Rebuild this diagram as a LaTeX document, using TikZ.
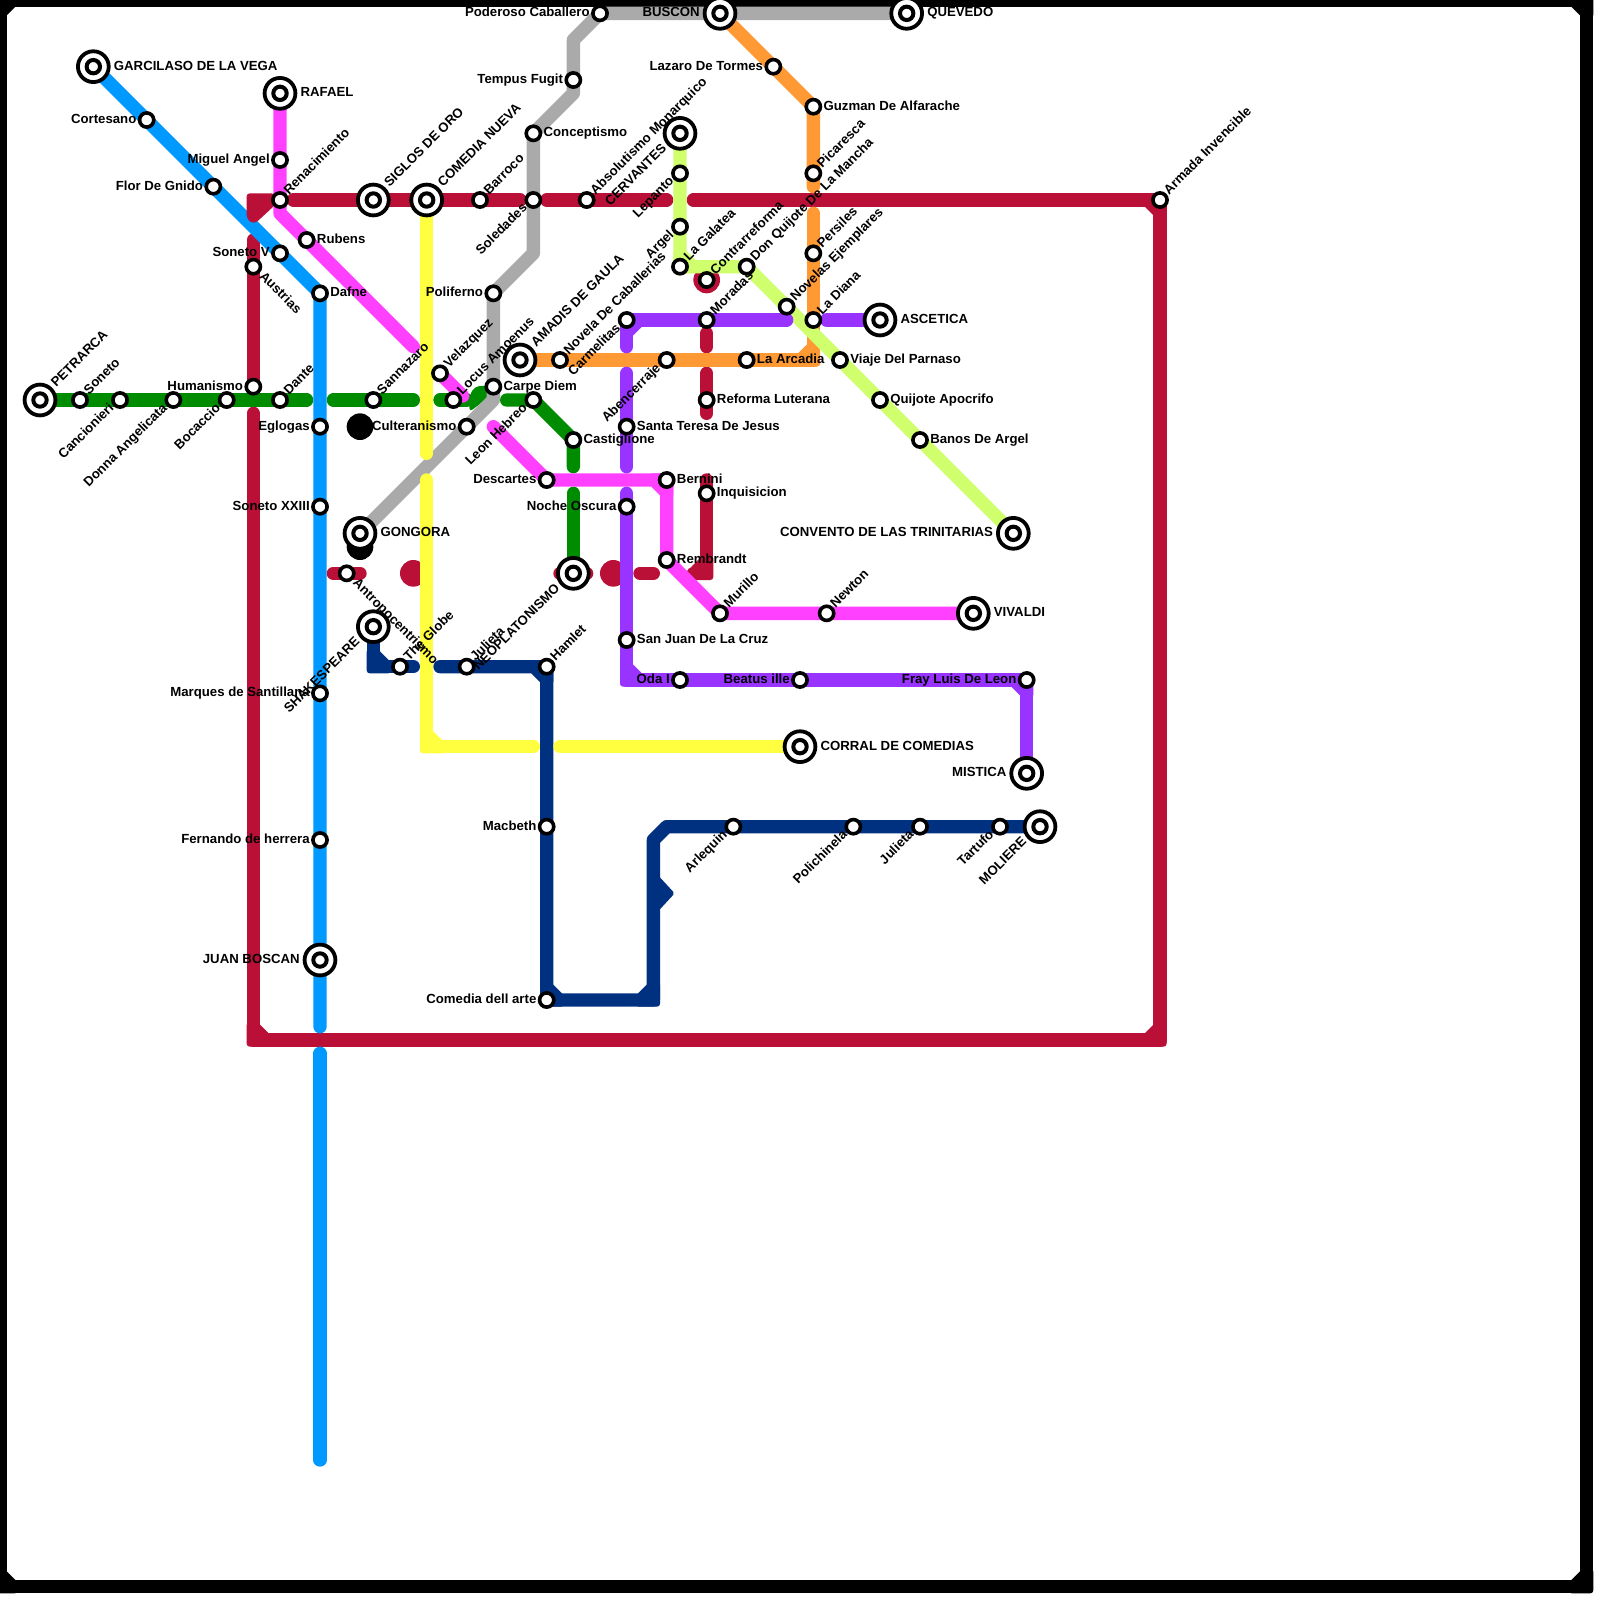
\documentclass[tikz,border=0pt]{standalone}
\usepackage{fontspec}
\setmainfont{Liberation Sans}
\definecolor{cblue}{HTML}{0099FF}
\definecolor{cgreen}{HTML}{008C00}
\definecolor{cmag}{HTML}{FF40FF}
\definecolor{cred}{HTML}{BA1038}
\definecolor{cyel}{HTML}{FFFF40}
\definecolor{cgrey}{HTML}{AAAAAA}
\definecolor{corg}{HTML}{FF9933}
\definecolor{cpur}{HTML}{9933FF}
\definecolor{clime}{HTML}{D0FF6E}
\definecolor{cnavy}{HTML}{003080}
\tikzset{
  x=13.3333pt,y=-13.3333pt,
  ln/.style={line width=13.3333pt,line cap=round,line join=round},
  stn/.style={circle,draw=black,fill=white,line width=3.6pt,inner sep=0pt,minimum size=14.2pt},
  term/.style={circle,draw=black,fill=white,line width=3.8pt,inner sep=0pt,minimum size=30.8pt},
  tin/.style={circle,draw=black,fill=white,line width=4pt,inner sep=0pt,minimum size=13.4pt},
  lbl/.style={inner sep=0pt,outer sep=0pt,font=\fontsize{13.2}{15}\selectfont\bfseries,text=black},
}
\newcommand\st[3]{\coordinate (#1) at (#2,#3);}
\newcommand\elb[5]{\fill[#1] ({#2-#4*1.15},{#3+#5*.5}) [rounded corners=3pt] -- ({#2+#4*.5},{#3+#5*.5}) [sharp corners] -- ({#2+#4*.5},{#3-#5*1.15}) -- ({#2-#4*.5},{#3-#5*1.15}) -- ({#2-#4*1.15},{#3-#5*.5}) -- cycle;}
\newcommand\sS[1]{\node[stn] (s#1) at (#1) {};}
\newcommand\sT[1]{\node[term] (t#1) at (#1) {}; \node[tin] (s#1) at (#1) {};}
\newcommand\lR[2]{\node[lbl,anchor=base west,xshift=10.3pt,yshift=-3.5pt] (l#1) at (#1) {#2};}
\newcommand\lL[2]{\node[lbl,anchor=base east,xshift=-10.3pt,yshift=-3.5pt] (l#1) at (#1) {#2};}
\newcommand\lUR[2]{\node[lbl,anchor=base west,xshift=9pt,yshift=5pt,rotate=45] (l#1) at (#1) {#2};}
\newcommand\lDL[2]{\node[lbl,anchor=base east,xshift=-5.6pt,yshift=-8.8pt,rotate=45] (l#1) at (#1) {#2};}
\newcommand\lDR[2]{\node[lbl,anchor=base west,xshift=5.6pt,yshift=-10.5pt,rotate=-45] (l#1) at (#1) {#2};}
\newcommand\tR[2]{\node[lbl,anchor=base west,xshift=20.6pt,yshift=-3.5pt] (l#1) at (#1) {#2};}
\newcommand\tL[2]{\node[lbl,anchor=base east,xshift=-20.3pt,yshift=-3.5pt] (l#1) at (#1) {#2};}
\newcommand\tUR[2]{\node[lbl,anchor=base west,xshift=16.4pt,yshift=12.5pt,rotate=45] (l#1) at (#1) {#2};}
\newcommand\tDL[2]{\node[lbl,anchor=base east,xshift=-13pt,yshift=-16pt,rotate=45] (l#1) at (#1) {#2};}
\begin{document}
\begin{tikzpicture}
\useasboundingbox (0,0) rectangle (120,120);
\fill[white] (0,0) rectangle (120,120);
% stations
\st{gar}{7}{5}\st{cort}{11}{9}\st{flor}{16}{14}\st{sonv}{21}{19}\st{daf}{24}{22}\st{egl}{24}{32}\st{sonx}{24}{38}\st{marq}{24}{52}\st{fern}{24}{63}\st{bosc}{24}{72}
\st{pet}{3}{30}\st{son}{6}{30}\st{canc}{9}{30}\st{donna}{13}{30}\st{boc}{17}{30}\st{dan}{21}{30}\st{sann}{28}{30}\st{locus}{34}{30}\st{leon}{40}{30}\st{cast}{43}{33}\st{neo}{43}{43}
\st{raf}{21}{7}\st{mig}{21}{12}\st{ren}{21}{15}\st{rub}{23}{18}\st{vel}{33}{28}\st{desc}{41}{36}\st{bern}{50}{36}\st{rem}{50}{42}\st{mur}{54}{46}\st{newt}{62}{46}\st{viv}{73}{46}
\st{arm}{87}{15}\st{barr}{36}{15}\st{abso}{44}{15}\st{sig}{28}{15}\st{com}{32}{15}\st{aus}{19}{20}\st{hum}{19}{29}\st{refo}{53}{30}\st{inq}{53}{37}\st{contra}{53}{21}\st{mor}{53}{24}\st{antro}{26}{43}
\st{corral}{60}{56}
\st{que}{68}{1}\st{bus}{54}{1}\st{pod}{45}{1}\st{temp}{43}{6}\st{conc}{40}{10}\st{sol}{40}{15}\st{pol}{37}{22}\st{carpe}{37}{29}\st{cult}{35}{32}\st{gon}{27}{40}
\st{laz}{58}{5}\st{guz}{61}{8}\st{pic}{61}{13}\st{pers}{61}{19}\st{dia}{61}{24}\st{arc}{56}{27}\st{aben}{50}{27}\st{nov}{42}{27}\st{ama}{39}{27}
\st{cerv}{51}{10}\st{lep}{51}{13}\st{arg}{51}{17}\st{gal}{51}{20}\st{quij}{56}{20}\st{ejem}{59}{23}\st{parn}{63}{27}\st{apoc}{66}{30}\st{banos}{69}{33}\st{conv}{76}{40}
\st{carm}{47}{24}\st{tere}{47}{32}\st{noche}{47}{38}\st{juan}{47}{48}\st{oda}{51}{51}\st{bea}{60}{51}\st{fray}{77}{51}\st{mis}{77}{58}\st{asc}{66}{24}
\st{shak}{28}{47}\st{glob}{30}{50}\st{julA}{35}{50}\st{ham}{41}{50}\st{mac}{41}{62}\st{dell}{41}{75}\st{arl}{55}{62}\st{pol2}{64}{62}\st{julB}{69}{62}\st{tar}{75}{62}\st{mol}{78}{62}
% frame
\st{f1}{0}{0}\st{f2}{119}{0}\st{f3}{119}{119}\st{f4}{0}{119}
\draw[ln,black] (f1) -- (f2) -- (f3) -- (f4) -- cycle;
\elb{black}{119}{0}{1}{-1}\elb{black}{119}{119}{1}{1}\elb{black}{0}{119}{-1}{1}\elb{black}{0}{0}{-1}{-1}
% crimson
\st{ra}{22}{15}\st{rb}{39}{15}\st{rc}{41}{15}\st{rd}{50}{15}\st{re}{52}{15}\st{rf}{87}{78}\st{rg}{19}{78}\st{rh}{19}{31}\st{ri}{19}{18}
\draw[ln,cred] (ra) -- (rb);
\draw[ln,cred] (rc) -- (rd);
\draw[ln,cred] (re) -- (arm) -- (rf) -- (rg) -- (rh);
\draw[ln,cred] (ri) -- (hum);
\elb{cred}{87}{15}{1}{-1}\elb{cred}{87}{78}{1}{1}\elb{cred}{19}{78}{-1}{1}
\st{rj}{25}{43}\st{rk}{27}{43}\draw[ln,cred] (rj) -- (rk);
\st{rl}{42}{43}\st{rm}{44}{43}\draw[ln,cred] (rl) -- (rm);
\st{rn}{48}{43}\st{ro}{49}{43}\draw[ln,cred] (rn) -- (ro);
\st{rp}{53}{36}\st{rq}{53}{43}\st{rr}{52}{43}\draw[ln,cred] (rp) -- (rq) -- (rr);
\elb{cred}{53}{43}{1}{1}
\st{rs}{53}{25}\st{rt}{53}{26}\draw[ln,cred] (rs) -- (rt);
\st{ru}{53}{28}\st{rv}{53}{31}\draw[ln,cred] (ru) -- (rv);
\fill[cred] (contra) circle (13.33pt);
\st{rw}{31}{43}\fill[cred] (rw) circle (13.33pt);
\st{rx}{46}{43}\fill[cred] (rx) circle (13.33pt);
% black dots
\st{ba}{27}{32}\fill[black] (ba) circle (13.33pt);
\st{bb}{27}{41}\fill[black] (bb) circle (13.33pt);
% orange
\st{oa}{61}{14}\st{ob}{61}{16}\st{oc}{61}{27}
\draw[ln,corg] (bus) -- (laz) -- (guz) -- (oa);
\draw[ln,corg] (ob) -- (oc) -- (ama);
\elb{corg}{61}{27}{1}{1}
% green
\st{ga}{23}{30}\st{gb}{25}{30}\st{gc}{31}{30}\st{gd}{33}{30}\st{ge}{35}{30}\st{gf}{38}{30}\st{gg}{43}{35}\st{gh}{43}{37}
\draw[ln,cgreen] (pet) -- (ga);
\draw[ln,cgreen] (gb) -- (gc);
\draw[ln,cgreen] (gd) -- (ge);
\fill[cgreen,rounded corners=4pt] (35.2,30.9) -- (35.2,29.7) -- (35.6,29) -- (36.6,28.9) -- (36.9,29.6) -- cycle;
\draw[ln,cgreen] (gf) -- (leon) -- (cast) -- (gg);
\draw[ln,cgreen] (gh) -- (neo);
% grey
\st{ya}{43}{3}\st{yb}{43}{7}\st{yc}{40}{19}\st{yd}{37}{30}
\draw[ln,cgrey] (que) -- (pod) -- (ya) -- (yb) -- (conc) -- (yc) -- (pol) -- (yd) -- (gon);
% navy
\st{na}{28}{50}\st{nb}{31}{50}\st{nc}{33}{50}\st{nd}{49}{75}\st{ne}{49}{63}\st{nf}{50}{62}
\draw[ln,cnavy] (shak) -- (na) -- (nb);
\draw[ln,cnavy] (nc) -- (ham) -- (dell) -- (nd) -- (ne) -- (nf) -- (mol);
\elb{cnavy}{28}{50}{-1}{1}\elb{cnavy}{41}{50}{1}{-1}\elb{cnavy}{41}{75}{-1}{1}\elb{cnavy}{49}{75}{1}{1}
\fill[cnavy,rounded corners=2pt] (49.4,65.7) -- (50.6,67) -- (49.4,68.3) -- cycle;
% yellow
\st{ka}{32}{34}\st{kb}{32}{36}\st{kc}{32}{56}\st{kd}{40}{56}\st{ke}{42}{56}
\draw[ln,cyel] (com) -- (ka);
\draw[ln,cyel] (kb) -- (kc) -- (kd);
\draw[ln,cyel] (ke) -- (corral);
\elb{cyel}{32}{56}{-1}{1}
% blue
\st{ua}{24}{77}\st{ub}{24}{79}\st{uc}{24}{109.5}
\draw[ln,cblue] (gar) -- (daf) -- (ua);
\draw[ln,cblue] (ub) -- (uc);
% corner piece of the crimson line beside Renacimiento
\fill[cred,rounded corners=3pt] (18.5,14.5) -- (20.6,14.5) -- (20.6,15.4) -- (19.2,16.7) -- (18.8,16.7) -- (18.5,16.3) -- cycle;
% magenta
\st{ma}{21}{16}\st{mb}{31}{26}\st{mc}{34.7}{29.7}\st{md}{37}{32}
\draw[ln,cmag] (raf) -- (ma) -- (mb);
\draw[ln,cmag] (vel) -- (mc);
\draw[ln,cmag] (md) -- (desc) -- (bern) -- (rem) -- (mur) -- (viv);
\elb{cmag}{50}{36}{1}{-1}
% lime
\st{la}{51}{20}
\draw[ln,clime] (cerv) -- (la) -- (quij) -- (conv);
\elb{clime}{51}{20}{-1}{1}
% purple
\st{pa}{59}{24}\st{pb}{47}{26}\st{pc}{47}{28}\st{pd}{47}{35}\st{pe}{47}{37}\st{pf}{47}{51}\st{pg}{62}{24}
\draw[ln,cpur] (pa) -- (carm) -- (pb);
\draw[ln,cpur] (pc) -- (pd);
\draw[ln,cpur] (pe) -- (pf) -- (fray) -- (mis);
\draw[ln,cpur] (pg) -- (asc);
\elb{cpur}{47}{24}{-1}{-1}\elb{cpur}{47}{51}{-1}{1}\elb{cpur}{77}{51}{1}{-1}
% station markers
\foreach \n in {cort,flor,sonv,daf,egl,sonx,marq,fern,son,canc,donna,boc,dan,sann,locus,leon,cast,mig,ren,rub,vel,desc,bern,rem,mur,newt,arm,barr,abso,aus,hum,refo,inq,contra,mor,antro,pod,temp,conc,sol,pol,carpe,cult,laz,guz,pic,pers,dia,arc,aben,nov,lep,arg,gal,quij,ejem,parn,apoc,banos,carm,tere,noche,juan,oda,bea,fray,glob,julA,ham,mac,dell,arl,pol2,julB,tar} {\sS{\n}}
\foreach \n in {gar,bosc,pet,neo,raf,viv,sig,com,corral,que,bus,gon,ama,cerv,conv,mis,asc,shak,mol} {\sT{\n}}
% labels
\tR{gar}{GARCILASO DE LA VEGA}\lL{cort}{Cortesano}\lL{flor}{Flor De Gnido}\lL{sonv}{Soneto V}\lR{daf}{Dafne}\lL{egl}{Eglogas}\lL{sonx}{Soneto XXIII}\lL{marq}{Marques de Santillana}\lL{fern}{Fernando de herrera}\tL{bosc}{JUAN BOSCAN}
\tUR{pet}{PETRARCA}\lUR{son}{Soneto}\lDL{canc}{Cancionieri}\lDL{donna}{Donna Angelicata}\lDL{boc}{Bocaccio}\lUR{dan}{Dante}\lUR{sann}{Sannazaro}\lUR{locus}{Locus Amoenus}\lDL{leon}{Leon Hebreo}\lR{cast}{Castiglione}\tDL{neo}{NEOPLATONISMO}
\tR{raf}{RAFAEL}\lL{mig}{Miguel Angel}\lUR{ren}{Renacimiento}\lR{rub}{Rubens}\lUR{vel}{Velazquez}\lL{desc}{Descartes}\lR{bern}{Bernini}\lR{rem}{Rembrandt}\lUR{mur}{Murillo}\lUR{newt}{Newton}\tR{viv}{VIVALDI}
\lUR{arm}{Armada Invencible}\lUR{barr}{Barroco}\lUR{abso}{Absolutismo Monarquico}\tUR{sig}{SIGLOS DE ORO}\tUR{com}{COMEDIA NUEVA}\lDR{aus}{Austrias}\lL{hum}{Humanismo}\lR{refo}{Reforma Luterana}\lR{inq}{Inquisicion}\lUR{contra}{Contrarreforma}\lUR{mor}{Moradas}\lDR{antro}{Antropocentrismo}
\tR{corral}{CORRAL DE COMEDIAS}
\tR{que}{QUEVEDO}\tL{bus}{BUSCON}\lL{pod}{Poderoso Caballero}\lL{temp}{Tempus Fugit}\lR{conc}{Conceptismo}\lDL{sol}{Soledades}\lL{pol}{Poliferno}\lR{carpe}{Carpe Diem}\lL{cult}{Culteranismo}\tR{gon}{GONGORA}
\lL{laz}{Lazaro De Tormes}\lR{guz}{Guzman De Alfarache}\lUR{pic}{Picaresca}\lUR{pers}{Persiles}\lUR{dia}{La Diana}\lR{arc}{La Arcadia}\lDL{aben}{Abencerraje}\lUR{nov}{Novela De Caballerias}\tUR{ama}{AMADIS DE GAULA}
\tDL{cerv}{CERVANTES}\lDL{lep}{Lepanto}\lDL{arg}{Argel}\lUR{gal}{La Galatea}\lUR{quij}{Don Quijote De La Mancha}\lUR{ejem}{Novelas Ejemplares}\lR{parn}{Viaje Del Parnaso}\lR{apoc}{Quijote Apocrifo}\lR{banos}{Banos De Argel}\tL{conv}{CONVENTO DE LAS TRINITARIAS}
\lDL{carm}{Carmelitas}\lR{tere}{Santa Teresa De Jesus}\lL{noche}{Noche Oscura}\lR{juan}{San Juan De La Cruz}\lL{oda}{Oda I}\lL{bea}{Beatus ille}\lL{fray}{Fray Luis De Leon}\tL{mis}{MISTICA}\tR{asc}{ASCETICA}
\tDL{shak}{SHAKESPEARE}\lUR{glob}{The Globe}\lUR{julA}{Julieta}\lUR{ham}{Hamlet}\lL{mac}{Macbeth}\lL{dell}{Comedia dell arte}\lDL{arl}{Arlequin}\lDL{pol2}{Polichinela}\lDL{julB}{Julieta}\lDL{tar}{Tartufo}\tDL{mol}{MOLIERE}
\end{tikzpicture}
\end{document}
